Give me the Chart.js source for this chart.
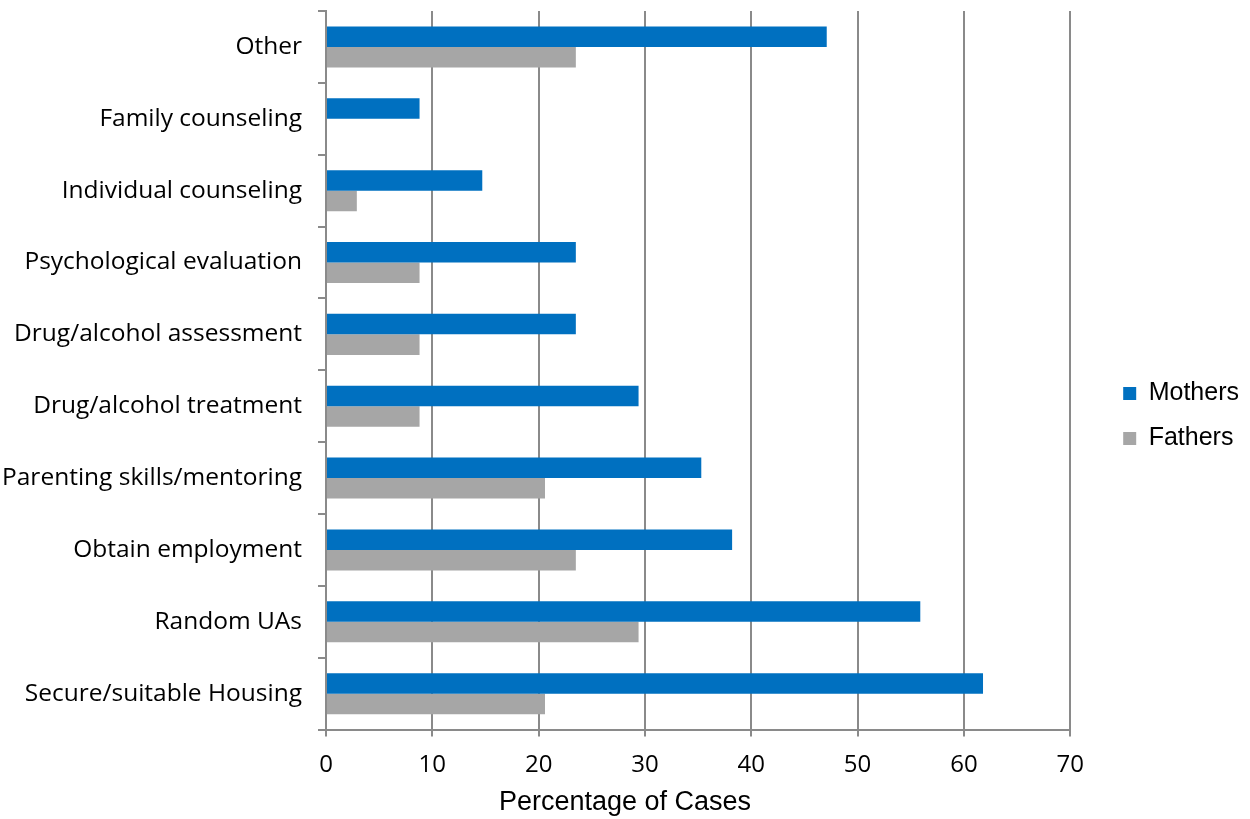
<!DOCTYPE html>
<html>
<head>
<meta charset="utf-8">
<script src="https://cdn.jsdelivr.net/npm/chart.js@4.4.1/dist/chart.umd.min.js"></script>
<style>
  html, body { margin: 0; padding: 0; background: #fff; }
  #wrap { width: 1250px; height: 819px; }
</style>
</head>
<body>
<div id="wrap"><canvas id="myChart" width="1250" height="819"></canvas></div>
<script>
// services requested, top row first
const categories = [
  "Other",
  "Family counseling",
  "Individual counseling",
  "Psychological evaluation",
  "Drug/alcohol assessment",
  "Drug/alcohol treatment",
  "Parenting skills/mentoring",
  "Obtain employment",
  "Random UAs",
  "Secure/suitable Housing"
];

// percentage of cases
const mothers = [47.1, 8.8, 14.7, 23.5, 23.5, 29.4, 35.3, 38.2, 55.9, 61.8];
const fathers = [23.5, 0, 2.9, 8.8, 8.8, 8.8, 20.6, 23.5, 29.4, 20.6];

const xTicks = [0, 10, 20, 30, 40, 50, 60, 70];

const gridGrey = "#8a8a8a";

// legend sits a bit away from the plot, title centred on the whole canvas
const placeBoxes = {
  id: "placeBoxes",
  afterLayout(chart) {
    const lg = chart.legend;
    if (lg) {
      const pad = lg.options.labels.padding;
      const dx = chart.chartArea.right + 53 - (lg.left + pad);
      const dy = 381 - (lg.top + pad);
      lg.left += dx; lg.right += dx;
      lg.top += dy; lg.bottom += dy;
    }
    const tb = chart.titleBlock;
    if (tb) {
      tb.left = 0;
      tb.right = chart.width;
      tb.width = chart.width;
    }
  }
};

const ctx = document.getElementById("myChart").getContext("2d");

new Chart(ctx, {
  type: "bar",
  data: {
    labels: categories,
    datasets: [
      {
        label: "Mothers",
        data: mothers,
        backgroundColor: "#0070C0",
        borderWidth: 0,
        categoryPercentage: 0.571,
        barPercentage: 1
      },
      {
        label: "Fathers",
        data: fathers,
        backgroundColor: "#A6A6A6",
        borderWidth: 0,
        categoryPercentage: 0.571,
        barPercentage: 1
      }
    ]
  },
  options: {
    indexAxis: "y",
    responsive: false,
    animation: false,
    layout: {
      padding: { top: 11, right: 34, bottom: 0, left: 0 }
    },
    plugins: {
      legend: {
        position: "right",
        align: "start",
        labels: {
          boxWidth: 13,
          boxHeight: 13,
          padding: 20,
          color: "#000",
          font: { family: "'Liberation Sans', Arial, sans-serif", size: 25, lineHeight: 1 }
        }
      },
      title: {
        display: true,
        position: "bottom",
        text: "Percentage of Cases",
        color: "#000",
        font: { family: "'Liberation Sans', Arial, sans-serif", size: 27, weight: "normal", lineHeight: 1.2 },
        padding: { top: 3, bottom: 0 }
      },
      tooltip: { enabled: false }
    },
    scales: {
      x: {
        min: 0,
        max: 70,
        afterBuildTicks: scale => {
          scale.ticks = xTicks.map(v => ({ value: v }));
        },
        afterFit: scale => { scale.height = 54; },
        grid: {
          color: gridGrey,
          lineWidth: 2,
          drawTicks: true,
          tickLength: 7
        },
        border: { display: true, color: gridGrey, width: 2 },
        ticks: {
          padding: 14,
          color: "#000",
          font: { family: "'Open Sans', sans-serif", size: 24 }
        }
      },
      y: {
        afterFit: scale => {
          scale.width = 326;
          scale.paddingTop = 0;
          scale.paddingBottom = 0;
        },
        grid: {
          offset: true,
          drawOnChartArea: false,
          drawTicks: true,
          tickLength: 8,
          color: gridGrey,
          lineWidth: 2
        },
        border: { display: true, color: gridGrey, width: 2 },
        ticks: {
          padding: 16,
          color: "#000",
          font: { family: "'Open Sans', sans-serif", size: 24.5 }
        }
      }
    }
  },
  plugins: [placeBoxes]
});
</script>
</body>
</html>
